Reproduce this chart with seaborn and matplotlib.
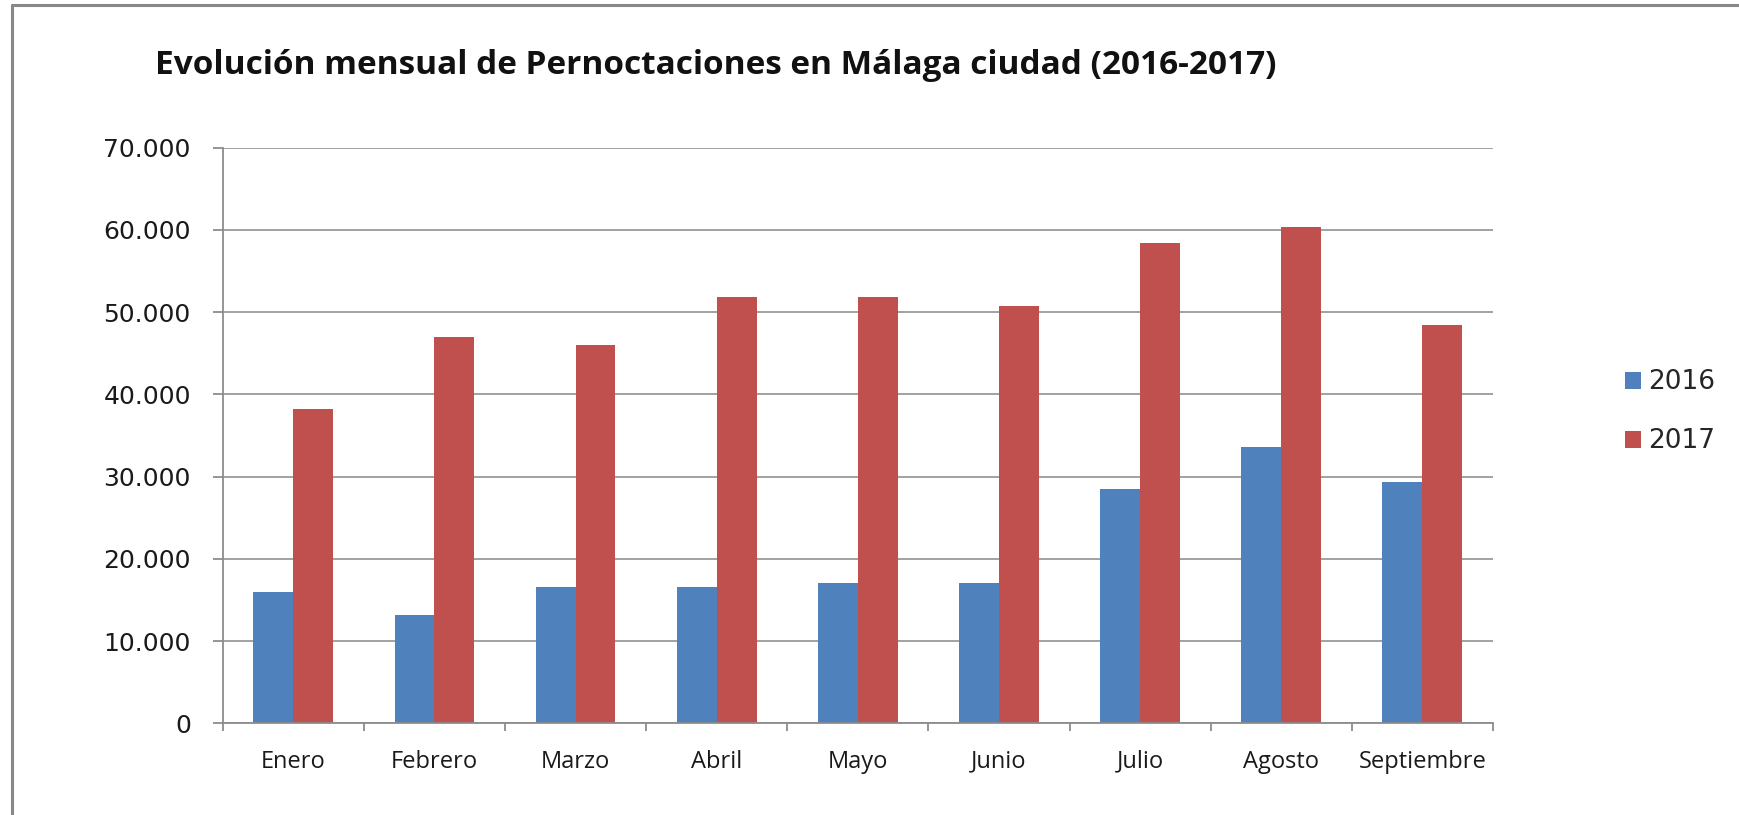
import matplotlib
matplotlib.use("Agg")
import matplotlib.pyplot as plt
from matplotlib.ticker import FuncFormatter, FixedLocator
from matplotlib.lines import Line2D
import seaborn as sns
import pandas as pd
import numpy as np

meses = ["Enero", "Febrero", "Marzo", "Abril", "Mayo", "Junio", "Julio", "Agosto", "Septiembre"]
v2016 = [15970, 13150, 16530, 16530, 17050, 17050, 28490, 33660, 29390]
v2017 = [38270, 46980, 46030, 51800, 51800, 50790, 58430, 60400, 48400]
series = ["2016", "2017"]
colores = ["#4F81BD", "#C0504D"]
titulo = "Evolución mensual de Pernoctaciones en Málaga ciudad (2016-2017)"

df = pd.DataFrame({
    "Mes": meses * 2,
    "Valor": v2016 + v2017,
    "Año": [series[0]] * len(meses) + [series[1]] * len(meses),
})

sns.set_theme(style="white")
plt.rcParams["font.family"] = ["DejaVu Sans"]

fig = plt.figure(figsize=(17.4, 8.15), dpi=100)
ax = fig.add_axes([0.128, 0.1123, 0.730, 0.7066])

sns.barplot(data=df, x="Mes", y="Valor", hue="Año", palette=colores,
            saturation=1, width=0.565, linewidth=0, ax=ax, legend=True)

ax.set_ylim(0, 70000)
ax.set_xlim(-0.5, len(meses) - 0.5)
ax.set_yticks(np.arange(0, 70001, 10000))
ax.yaxis.set_major_formatter(FuncFormatter(lambda v, p: f"{int(v):,}".replace(",", ".")))
ax.grid(axis="y", color="#9A9A9A", linewidth=1.3)
ax.set_axisbelow(True)
for s in ["top", "right"]:
    ax.spines[s].set_visible(False)
for s in ["left", "bottom"]:
    ax.spines[s].set_color("#8C8C8C")
    ax.spines[s].set_linewidth(1.3)
ax.set_xlabel("")
ax.set_ylabel("")

ax.tick_params(axis="y", which="major", left=True, length=7, width=1.3, color="#8C8C8C",
               direction="out", pad=16, labelsize=18, labelcolor="#1a1a1a")
ax.xaxis.set_minor_locator(FixedLocator(np.arange(-0.5, len(meses), 1.0)))
ax.tick_params(axis="x", which="minor", bottom=True, length=6, width=1.3, color="#8C8C8C", direction="out")
ax.tick_params(axis="x", which="major", bottom=False, length=0, pad=19, labelsize=17, labelcolor="#1a1a1a")
for lbl in ax.get_xticklabels():
    lbl.set_fontfamily("Open Sans")

leg = ax.legend(loc="center left", bbox_to_anchor=(1601 / 1740, 0.4945),
                bbox_transform=fig.transFigure, frameon=False, fontsize=19,
                handlelength=0.6, handleheight=0.6, handletextpad=0.3,
                labelspacing=1.25, title=None)

fig.text(155 / 1740, 1 - 65 / 815, titulo, fontsize=24, fontweight="bold",
         fontfamily="Open Sans", ha="left", va="center", color="#111111")

# outer chart border (left and top visible)
fig.add_artist(Line2D([12 / 1740, 12 / 1740], [0, 1 - 5 / 815], transform=fig.transFigure,
                      color="#888888", linewidth=2.2))
fig.add_artist(Line2D([12 / 1740, 1], [1 - 5 / 815, 1 - 5 / 815], transform=fig.transFigure,
                      color="#888888", linewidth=2.2))

fig.savefig("out.png", dpi=100, facecolor="white")
